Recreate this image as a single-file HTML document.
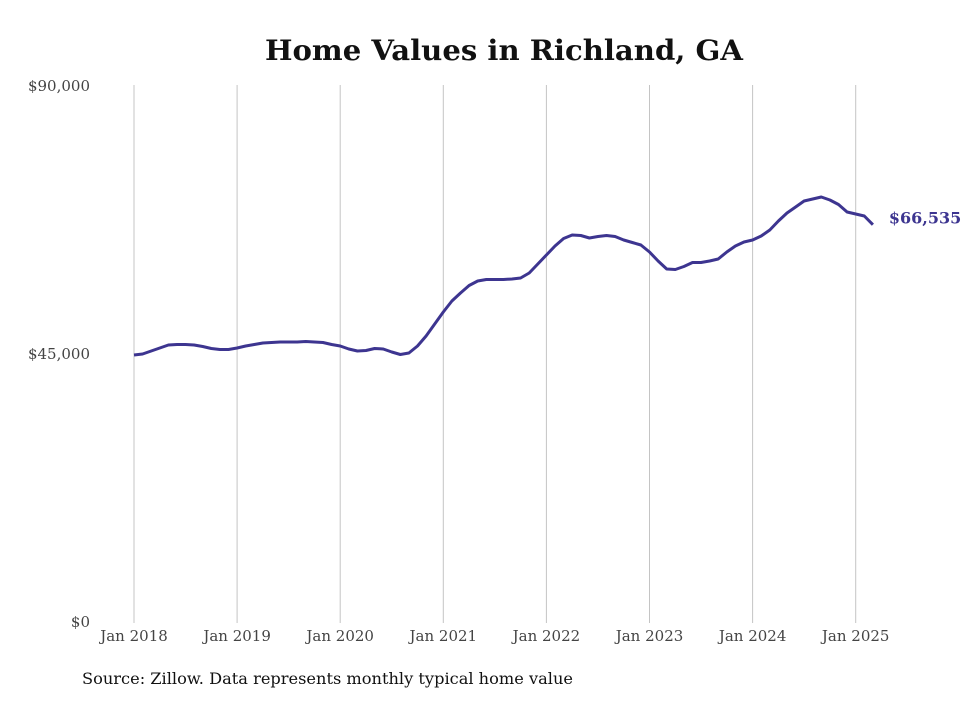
<!DOCTYPE html>
<html><head><meta charset="utf-8"><style>
body{margin:0;background:#fff;}
svg text{font-family:"DejaVu Serif","Liberation Serif",serif;}
</style></head><body>
<svg width="980" height="699" viewBox="0 0 980 699" xmlns="http://www.w3.org/2000/svg">
<rect width="980" height="699" fill="#fff"/>
<text x="265" y="60" textLength="478" lengthAdjust="spacingAndGlyphs" font-size="28" font-weight="bold" fill="#111">Home Values in Richland, GA</text>
<g id="grid"></g><g id="yaxis"></g><g id="xaxis"></g>
<path id="line" fill="none" stroke="#3d3590" stroke-width="3" stroke-linejoin="round"/>
<text id="endlabel" font-size="16" font-weight="bold" fill="#3d3590"></text>
<text x="82" y="684" textLength="491" lengthAdjust="spacingAndGlyphs" font-size="16" fill="#111">Source: Zillow. Data represents monthly typical home value</text>
</svg>
<script>
const values=[44664,44832,45336,45839,46343,46427,46427,46343,46091,45755,45587,45587,
45839,46175,46427,46679,46763,46847,46847,46847,46931,46847,46763,46427,
46175,45671,45336,45420,45755,45671,45168,44748,45000,46175,47854,49869,
51884,53731,55074,56334,57089,57341,57341,57341,57425,57593,58433,59944,
61455,62966,64226,64813,64730,64310,64562,64730,64562,63974,63554,63134,
61959,60448,59104,59020,59524,60196,60196,60448,60783,61959,62966,63638,
63974,64645,65653,67164,68507,69515,70522,70858,71194,70690,69935,68675,
68339,68004,66535];
const yTicks=[0,45000,90000];
const yTickLabels=["$0","$45,000","$90,000"];
const xYears=[2018,2019,2020,2021,2022,2023,2024,2025];
const NS="http://www.w3.org/2000/svg";
const x0=134,perYear=103.1,yTop=85,yBot=621,yMax=90000;
const xs=m=>x0+m*perYear/12;
const ys=v=>yBot-(v/yMax)*(yBot-yTop);
function mk(t,a,p){const e=document.createElementNS(NS,t);for(const k in a)e.setAttribute(k,a[k]);p.appendChild(e);return e;}
const grid=document.getElementById('grid'),xa=document.getElementById('xaxis'),ya=document.getElementById('yaxis');
xYears.forEach((yr,i)=>{const x=xs(i*12);
 const l=mk('line',{x1:x,x2:x,y1:yTop,y2:yBot+2,stroke:'#c4c4c4','stroke-width':1},grid);
 
 
 const t=mk('text',{x:x,y:641,'text-anchor':'middle','font-size':15,fill:'#444'},xa);
 t.textContent='Jan '+yr;
 
 
});
yTicks.forEach((v,i)=>{const t=mk('text',{x:90,y:ys(v)+6,'text-anchor':'end','font-size':15,fill:'#444'},ya);
 t.textContent=yTickLabels[i];
 
 
});
document.getElementById('line').setAttribute('d',values.map((v,i)=>(i?'L':'M')+xs(i).toFixed(1)+','+ys(v).toFixed(1)).join(''));
const last=values.length-1,el=document.getElementById('endlabel');
el.setAttribute('x',xs(last)+16);el.setAttribute('y',ys(values[last])-1);
el.textContent='$'+values[last].toLocaleString('en-US');
</script>
</body></html>
